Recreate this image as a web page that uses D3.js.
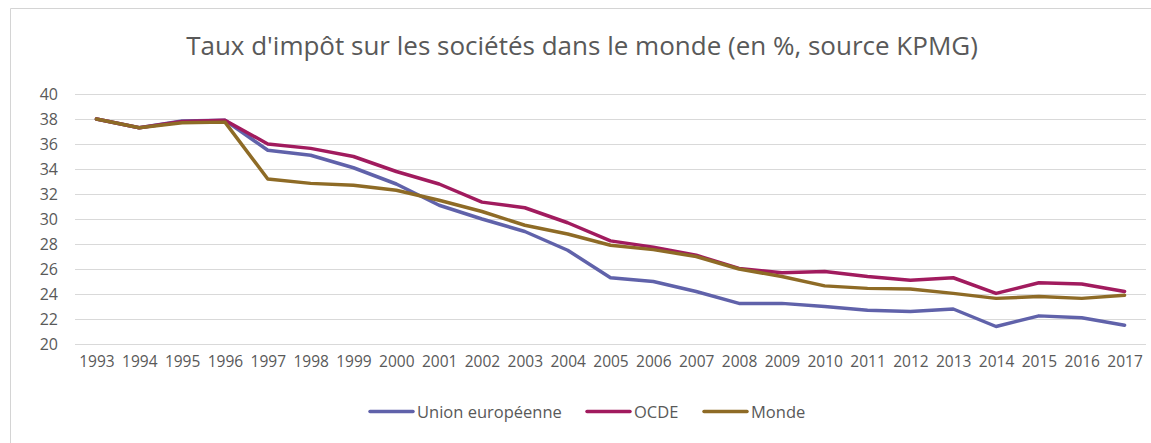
<!DOCTYPE html>
<html lang="fr">
<head>
<meta charset="UTF-8">
<title>Taux d'impôt sur les sociétés</title>
<style>
  body { margin: 0; background: #fff; }
  svg { display: block; font-family: "Open Sans", sans-serif; }
  .tick text { fill: #595959; }
</style>
<script src="https://d3js.org/d3.v7.min.js"></script>
</head>
<body>
<script>
const width = 1151;
const height = 443;

const years = ["1993","1994","1995","1996","1997","1998","1999","2000","2001","2002","2003","2004","2005",
               "2006","2007","2008","2009","2010","2011","2012","2013","2014","2015","2016","2017"];
const ue    = [38.0,37.3,37.85,37.9,35.5,35.1,34.1,32.8,31.1,30.0,29.0,27.5,25.3,25.0,24.2,23.25,23.25,23.0,22.7,22.6,22.8,21.4,22.25,22.1,21.5];
const ocde  = [38.0,37.3,37.8,37.9,36.0,35.65,35.0,33.8,32.8,31.35,30.9,29.7,28.25,27.75,27.1,26.05,25.7,25.8,25.4,25.1,25.3,24.05,24.9,24.8,24.2];
const monde = [38.0,37.3,37.7,37.75,33.2,32.85,32.7,32.3,31.5,30.6,29.5,28.8,27.9,27.55,27.0,26.0,25.4,24.65,24.45,24.4,24.05,23.65,23.8,23.65,23.9];
const seriesNames = ["Union européenne","OCDE","Monde"];
const seriesColors = ["#6062AA","#A11B5E","#8E6B26"];
const yTicks = [20,22,24,26,28,30,32,34,36,38,40];

const series = [ue, ocde, monde];

const svg = d3.select("body").append("svg")
  .attr("width", width)
  .attr("height", height);

// cadre du graphique
svg.append("path")
  .attr("d", `M10.5,${height} V8.5 H${width}`)
  .attr("fill", "none")
  .attr("stroke", "#D4D4D4");

svg.append("text")
  .attr("x", 582)
  .attr("y", 55)
  .attr("text-anchor", "middle")
  .attr("font-size", 26)
  .attr("fill", "#595959")
  .text("Taux d'impôt sur les sociétés dans le monde (en %, source KPMG)");

const x = d3.scalePoint().domain(years).range([75, 1146]).padding(0.5);
const y = d3.scaleLinear().domain([20, 40]).range([344, 94]);

// grille
svg.append("g")
  .selectAll("line")
  .data(yTicks)
  .join("line")
  .attr("x1", 75).attr("x2", 1146)
  .attr("y1", d => y(d) + 0.5).attr("y2", d => y(d) + 0.5)
  .attr("stroke", "#D9D9D9")
  .attr("stroke-width", 1);

const yAxis = svg.append("g")
  .attr("transform", "translate(58,0)")
  .call(d3.axisLeft(y).tickValues(yTicks).tickSize(0).tickPadding(0));
yAxis.select(".domain").remove();
yAxis.selectAll("text").attr("font-size", 16).attr("font-family", "Open Sans");

const xAxis = svg.append("g")
  .attr("transform", "translate(0,356)")
  .call(d3.axisBottom(x).tickSize(0).tickPadding(0));
xAxis.select(".domain").remove();
xAxis.selectAll("text").attr("font-size", 15.5).attr("font-family", "Open Sans");

const line = d3.line()
  .x((d, i) => x(years[i]))
  .y(d => y(d));

// Monde en dernier, au-dessus des autres
[0, 1, 2].forEach(k => {
  svg.append("path")
    .datum(series[k])
    .attr("fill", "none")
    .attr("stroke", seriesColors[k])
    .attr("stroke-width", 3.5)
    .attr("stroke-linejoin", "round")
    .attr("stroke-linecap", "round")
    .attr("d", line);
});

// légende
const legendX = [370, 587, 704];
const legend = svg.append("g");
seriesNames.forEach((name, k) => {
  legend.append("line")
    .attr("x1", legendX[k]).attr("x2", legendX[k] + 43)
    .attr("y1", 411.5).attr("y2", 411.5)
    .attr("stroke", seriesColors[k])
    .attr("stroke-width", 3.5)
    .attr("stroke-linecap", "round");
  legend.append("text")
    .attr("x", legendX[k] + 47)
    .attr("y", 417.5)
    .attr("font-size", 16.5)
    .attr("fill", "#595959")
    .text(name);
});
</script>
</body>
</html>
